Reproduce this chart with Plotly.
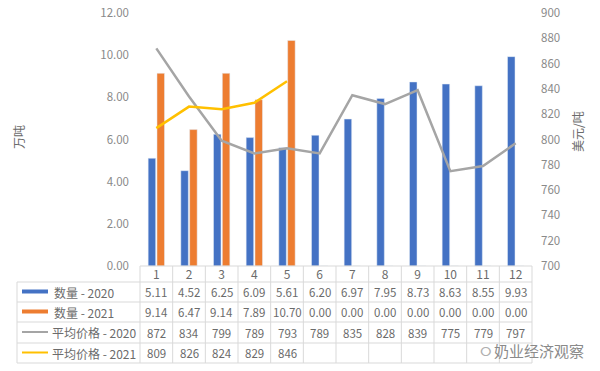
import plotly.graph_objects as go

months = [str(i) for i in range(1, 13)]
qty_2020 = [5.11, 4.52, 6.25, 6.09, 5.61, 6.20, 6.97, 7.95, 8.73, 8.63, 8.55, 9.93]
qty_2021 = [9.14, 6.47, 9.14, 7.89, 10.70, 0, 0, 0, 0, 0, 0, 0]
price_2020 = [872, 834, 799, 789, 793, 789, 835, 828, 839, 775, 779, 797]
price_2021 = [809, 826, 824, 829, 846]

series_names = ["数量 - 2020", "数量 - 2021", "平均价格 - 2020", "平均价格 - 2021"]
left_title = "万吨"
right_title = "美元/吨"
watermark = "奶业经济观察"

BLUE = "#4472C4"
ORANGE = "#ED7D31"
GRAY = "#A5A5A5"
YELLOW = "#FFC000"
GRID = "#D9D9D9"
TXT = "#6b6b6b"
FONT = "Noto Sans CJK SC"

W, H = 600, 371
L, R, T, B = 140, 68, 13, 105
PW, PH = W - L - R, H - T - B

def py(y):  # pixel y -> paper y
    return (H - B - y) / PH

def px(x):  # pixel x -> paper x
    return (x - L) / PW

fig = go.Figure()
x = list(range(1, 13))
fig.add_trace(go.Bar(x=x, y=qty_2020, name=series_names[0], marker_color=BLUE, yaxis="y"))
fig.add_trace(go.Bar(x=x, y=qty_2021, name=series_names[1], marker_color=ORANGE, yaxis="y"))
fig.add_trace(go.Scatter(x=x, y=price_2020, mode="lines", name=series_names[2],
                         line=dict(color=GRAY, width=2.5), yaxis="y2"))
fig.add_trace(go.Scatter(x=x[:len(price_2021)], y=price_2021, mode="lines", name=series_names[3],
                         line=dict(color=YELLOW, width=2.5), yaxis="y2"))

shapes = []
annotations = []

# table grid
row_lines = [266, 282, 302, 322, 343, 363]
for i, yl in enumerate(row_lines):
    x0 = L if i == 0 else 17
    shapes.append(dict(type="line", xref="paper", yref="paper", x0=px(x0), x1=1,
                       y0=py(yl), y1=py(yl), line=dict(color=GRID, width=1)))
ncat = len(months)
for i in range(ncat + 1):
    xp = i / ncat
    shapes.append(dict(type="line", xref="paper", yref="paper", x0=xp, x1=xp,
                       y0=py(266), y1=py(363), line=dict(color=GRID, width=1)))
shapes.append(dict(type="line", xref="paper", yref="paper", x0=px(17), x1=px(17),
                   y0=py(282), y1=py(363), line=dict(color=GRID, width=1)))

# rows
rows = [
    ([f"{v:.2f}" for v in qty_2020], BLUE, 4),
    ([f"{v:.2f}" for v in qty_2021], ORANGE, 4),
    ([f"{v}" for v in price_2020], GRAY, 2),
    ([f"{v}" for v in price_2021], YELLOW, 2),
]
for r, (vals, col, lw) in enumerate(rows):
    yc = (row_lines[r + 1] + row_lines[r + 2]) / 2
    shapes.append(dict(type="line", xref="paper", yref="paper", x0=px(22), x1=px(48),
                       y0=py(yc - 0.5), y1=py(yc - 0.5), line=dict(color=col, width=lw)))
    annotations.append(dict(xref="paper", yref="paper", x=px(52 if r < 2 else 50), y=py(yc),
                            text=series_names[r], showarrow=False, xanchor="left", yanchor="middle",
                            font=dict(family=FONT, size=12, color=TXT)))
    for i, v in enumerate(vals):
        annotations.append(dict(xref="x", yref="paper", x=x[i], y=py(yc), text=v,
                                showarrow=False, xanchor="center", yanchor="middle",
                                font=dict(family=FONT, size=11.5, color=TXT)))

# axis titles
annotations.append(dict(xref="paper", yref="paper", x=px(18), y=py(137), text=left_title,
                        textangle=-90, showarrow=False, xanchor="center", yanchor="middle",
                        font=dict(family=FONT, size=12, color=TXT)))
annotations.append(dict(xref="paper", yref="paper", x=px(577), y=py(132), text=right_title,
                        textangle=-90, showarrow=False, xanchor="center", yanchor="middle",
                        font=dict(family=FONT, size=12, color=TXT)))
# watermark
annotations.append(dict(xref="paper", yref="paper", x=px(539), y=py(350), text=watermark,
                        showarrow=False, xanchor="center", yanchor="middle",
                        font=dict(family=FONT, size=15, color="#8a8a8a")))
annotations.append(dict(xref="paper", yref="paper", x=px(486), y=py(350), text="ⵔ",
                        showarrow=False, xanchor="center", yanchor="middle",
                        font=dict(family=FONT, size=13, color="#b0b0b0")))

fig.update_layout(
    width=W, height=H,
    margin=dict(l=L, r=R, t=T, b=B),
    paper_bgcolor="white", plot_bgcolor="white",
    showlegend=False,
    barmode="group", bargap=0.46, bargroupgap=0.15,
    font=dict(family=FONT, color=TXT),
    xaxis=dict(range=[0.5, 12.5], tickmode="array", tickvals=x, ticktext=months,
               showgrid=False, zeroline=False, showline=False, ticks="", automargin=False,
               tickfont=dict(size=12, color=TXT), ticklabelstandoff=0),
    yaxis=dict(range=[0, 12], dtick=2, tickformat=".2f", showgrid=False, zeroline=False,
               showline=False, ticks="", automargin=False,
               tickfont=dict(size=11.5, color="#8a8a8a"), ticklabelstandoff=10),
    yaxis2=dict(range=[700, 900], dtick=20, overlaying="y", side="right", showgrid=False,
                zeroline=False, showline=False, ticks="", automargin=False,
                tickfont=dict(size=11.5, color="#8a8a8a"), ticklabelstandoff=8),
    shapes=shapes,
    annotations=annotations,
)

fig.write_html("out.html", config={"displayModeBar": False},
               post_script="document.body.style.margin='0px';")
